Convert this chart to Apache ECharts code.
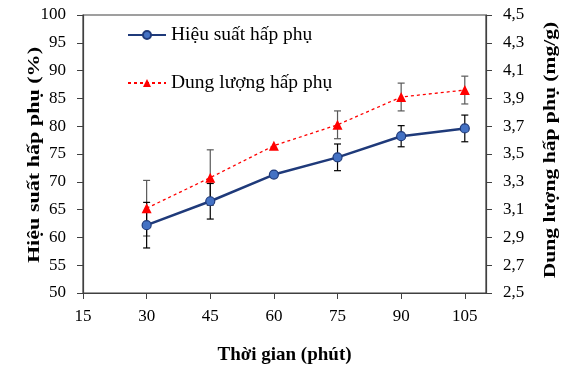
<!DOCTYPE html>
<html>
<head>
<meta charset="utf-8">
<script src="https://cdn.jsdelivr.net/npm/echarts@6/dist/echarts.min.js"></script>
<style>html,body{margin:0;padding:0;background:#fff}#c{width:563px;height:367px}</style>
</head>
<body>
<div id="c"></div>
<script>
var times = [30, 45, 60, 75, 90, 105];
var efficiency = [62.2, 66.5, 71.3, 74.4, 78.2, 79.6];
var efficiencyErr = [4.1, 3.2, 0, 2.4, 1.9, 2.4];
var capacity = [3.11, 3.33, 3.56, 3.71, 3.91, 3.96];
var capacityErr = [0.2, 0.2, 0, 0.1, 0.1, 0.1];
var nameEff = 'Hiệu suất hấp phụ';
var nameCap = 'Dung lượng hấp phụ';
var titleX = 'Thời gian (phút)';
var titleLeft = 'Hiệu suất hấp phụ (%)';
var titleRight = 'Dung lượng hấp phụ (mg/g)';

var font = '"Liberation Serif", "Times New Roman", serif';

function pairs(xs, ys) { return xs.map(function (x, i) { return [x, ys[i]]; }); }
function errData(xs, ys, es) {
  var out = [];
  xs.forEach(function (x, i) { if (es[i] > 0) out.push([x, ys[i] - es[i], ys[i] + es[i]]); });
  return out;
}
function errRender(color) {
  return function (params, api) {
    var x = api.value(0);
    var lo = api.coord([x, api.value(1)]);
    var hi = api.coord([x, api.value(2)]);
    var w = 3.5;
    var st = { stroke: color, lineWidth: 1.2 };
    return {
      type: 'group',
      children: [
        { type: 'line', shape: { x1: lo[0], y1: lo[1], x2: hi[0], y2: hi[1] }, style: st },
        { type: 'line', shape: { x1: lo[0] - w, y1: lo[1], x2: lo[0] + w, y2: lo[1] }, style: st },
        { type: 'line', shape: { x1: hi[0] - w, y1: hi[1], x2: hi[0] + w, y2: hi[1] }, style: st }
      ]
    };
  };
}

var chart = echarts.init(document.getElementById('c'), null, { renderer: 'canvas' });
var axisLine = { show: true, lineStyle: { color: '#404040', width: 1.2 } };
var axisTick = { show: true, inside: false, length: 6, lineStyle: { color: '#404040' } };
var labelStyle = { color: '#000', fontFamily: font, fontSize: 17 };
var titleStyle = { color: '#000', fontFamily: font, fontSize: 19, fontWeight: 'bold' };

function vTitle(text, x, y, scale) {
  return {
    type: 'text', x: x, y: y, rotation: Math.PI / 2, scaleX: scale, scaleY: 1, silent: true,
    style: {
      text: text, fill: '#000', fontFamily: font, fontSize: 17, fontWeight: 'bold',
      align: 'center', verticalAlign: 'middle', textAlign: 'center', textVerticalAlign: 'middle'
    }
  };
}

chart.setOption({
  animation: false,
  backgroundColor: '#fff',
  grid: { left: 83, right: 77, top: 15, bottom: 74, show: true, borderColor: '#404040', borderWidth: 1.2, containLabel: false, outerBoundsMode: 'none' },
  legend: {
    orient: 'vertical', left: 122, top: 20, itemGap: 28, itemWidth: 38, itemHeight: 10,
    data: [nameEff, nameCap],
    textStyle: { color: '#000', fontFamily: font, fontSize: 19.5 }
  },
  graphic: [
    vTitle(titleLeft, 35, 155, 1.3),
    vTitle(titleRight, 551, 150, 1.27)
  ],
  xAxis: {
    type: 'value', min: 15, max: 110, interval: 15,
    name: titleX, nameLocation: 'middle', nameGap: 53, nameTextStyle: titleStyle,
    axisLine: axisLine, axisTick: axisTick, splitLine: { show: false },
    axisLabel: Object.assign({ margin: 15, showMaxLabel: false }, labelStyle)
  },
  yAxis: [
    {
      type: 'value', min: 50, max: 100, interval: 5,
      axisLine: axisLine, axisTick: axisTick, splitLine: { show: false },
      axisLabel: Object.assign({ margin: 17 }, labelStyle)
    },
    {
      type: 'value', min: 2.5, max: 4.5, interval: 0.2,
      axisLine: axisLine, axisTick: axisTick, splitLine: { show: false },
      axisLabel: Object.assign({ margin: 17, formatter: function (v) { return v.toFixed(1).replace('.', ','); } }, labelStyle)
    }
  ],
  series: [
    {
      type: 'custom', yAxisIndex: 1, data: errData(times, capacity, capacityErr),
      renderItem: errRender('#595959'), z: 1, silent: true
    },
    {
      type: 'custom', yAxisIndex: 0, data: errData(times, efficiency, efficiencyErr),
      renderItem: errRender('#000'), z: 1, silent: true
    },
    {
      name: nameCap, type: 'line', yAxisIndex: 1, data: pairs(times, capacity),
      symbol: 'triangle', symbolSize: 10,
      lineStyle: { color: '#ff0000', width: 1.3, type: [3, 3] },
      itemStyle: { color: '#ff0000', borderWidth: 0 }, z: 3
    },
    {
      name: nameEff, type: 'line', yAxisIndex: 0, data: pairs(times, efficiency),
      symbol: 'circle', symbolSize: 9,
      lineStyle: { color: '#1f3a7a', width: 2.5 },
      itemStyle: { color: '#4472c4', borderColor: '#1f3a7a', borderWidth: 1.2 }, z: 4
    }
  ]
});
</script>
</body>
</html>
